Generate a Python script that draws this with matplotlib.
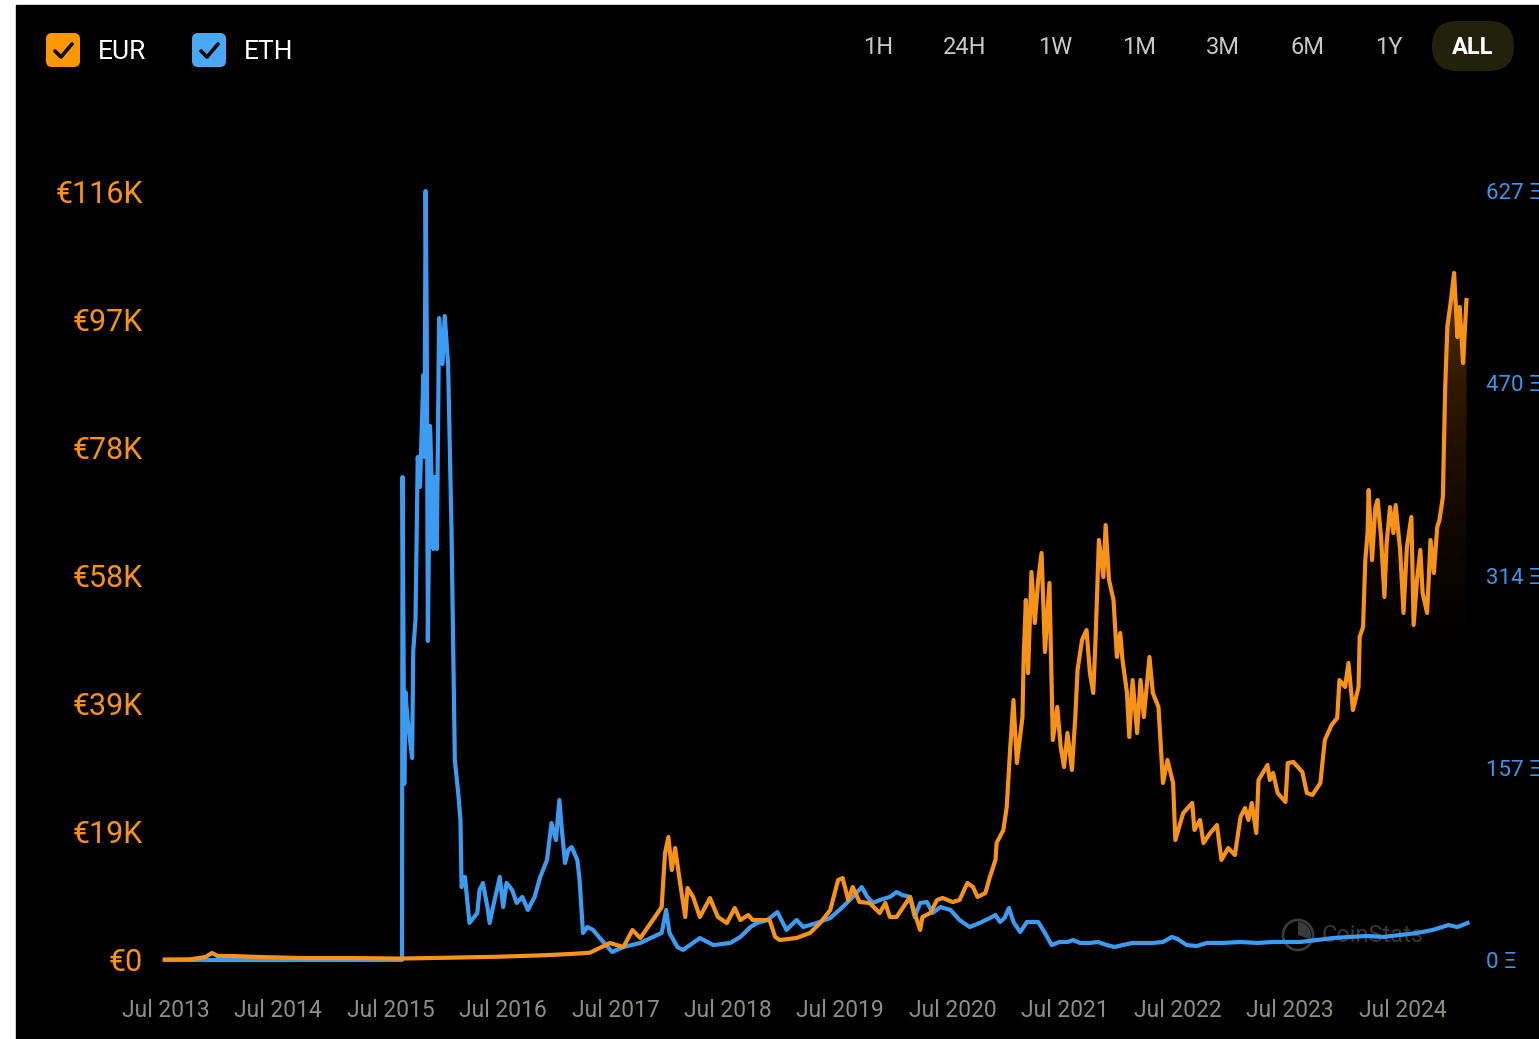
"""BTC price chart: EUR (left axis) and ETH (right axis), CoinStats style."""

import matplotlib

matplotlib.use("Agg")

import matplotlib.pyplot as plt
import numpy as np
from matplotlib.colors import LinearSegmentedColormap
from matplotlib.patches import Circle, FancyBboxPatch, Rectangle, Wedge

plt.rcParams["font.family"] = ["Roboto", "DejaVu Sans"]

# BTC price in EUR (thousands), time in decimal years
eur_t = [2013.49, 2013.71, 2013.85, 2013.91, 2013.96, 2014.07, 2014.34, 2014.69, 2015.14, 2015.58,
         2016.03, 2016.47, 2016.83, 2017.09, 2017.27, 2017.45, 2017.57, 2017.65, 2017.72, 2017.85,
         2017.91, 2017.94, 2017.97, 2018.00, 2018.03, 2018.07, 2018.12, 2018.14, 2018.19, 2018.25,
         2018.34, 2018.41, 2018.49, 2018.56, 2018.61, 2018.68, 2018.72, 2018.87, 2018.92, 2018.96,
         2019.11, 2019.23, 2019.32, 2019.41, 2019.48, 2019.52, 2019.57, 2019.61, 2019.67, 2019.76,
         2019.85, 2019.90, 2019.94, 2020.00, 2020.06, 2020.12, 2020.16, 2020.21, 2020.23, 2020.30,
         2020.36, 2020.41, 2020.50, 2020.56, 2020.63, 2020.68, 2020.72, 2020.79, 2020.83, 2020.88,
         2020.89, 2020.95, 2020.98, 2021.01, 2021.04, 2021.07, 2021.12, 2021.13, 2021.15, 2021.17,
         2021.20, 2021.23, 2021.26, 2021.29, 2021.32, 2021.36, 2021.39, 2021.43, 2021.46, 2021.49,
         2021.52, 2021.56, 2021.59, 2021.61, 2021.65, 2021.69, 2021.72, 2021.75, 2021.77, 2021.80,
         2021.84, 2021.86, 2021.89, 2021.93, 2021.96, 2021.99, 2022.01, 2022.05, 2022.07, 2022.10,
         2022.14, 2022.17, 2022.20, 2022.25, 2022.28, 2022.33, 2022.37, 2022.41, 2022.46, 2022.48,
         2022.55, 2022.63, 2022.65, 2022.70, 2022.73, 2022.79, 2022.85, 2022.89, 2022.95, 2023.01,
         2023.06, 2023.10, 2023.13, 2023.16, 2023.20, 2023.22, 2023.30, 2023.32, 2023.35, 2023.39,
         2023.46, 2023.48, 2023.53, 2023.61, 2023.65, 2023.70, 2023.77, 2023.81, 2023.87, 2023.92,
         2023.94, 2023.99, 2024.02, 2024.06, 2024.11, 2024.12, 2024.15, 2024.17, 2024.19, 2024.20,
         2024.23, 2024.26, 2024.28, 2024.31, 2024.34, 2024.36, 2024.39, 2024.42, 2024.44, 2024.48,
         2024.51, 2024.54, 2024.58, 2024.60, 2024.63, 2024.66, 2024.68, 2024.72, 2024.75, 2024.78,
         2024.81, 2024.83, 2024.86, 2024.88, 2024.90, 2024.93, 2024.96, 2024.99, 2025.01, 2025.04,
         2025.07]
eur_k = [0.07, 0.10, 0.45, 1.06, 0.61, 0.61, 0.45, 0.30, 0.30, 0.22,
         0.35, 0.5, 0.7, 0.9, 1.1, 2.57, 1.97, 4.54, 3.33, 6.51,
         8.02, 16.20, 18.62, 13.62, 16.95, 12.11, 6.51, 10.90, 9.54, 6.51,
         9.38, 6.51, 5.60, 7.87, 6.05, 6.81, 6.05, 6.05, 3.48, 3.03,
         3.33, 4.09, 5.60, 7.57, 12.11, 12.41, 9.08, 11.05, 8.78, 8.63,
         7.11, 8.63, 6.51, 6.51, 8.02, 9.54, 7.11, 4.54, 6.51, 7.11,
         9.08, 9.38, 8.78, 9.08, 11.66, 11.05, 9.54, 10.14, 12.56, 15.14,
         17.71, 19.68, 23.16, 31.79, 39.36, 29.82, 36.78, 45.41, 54.49, 43.44,
         58.73, 51.01, 57.52, 61.61, 46.62, 57.07, 33.30, 38.30, 32.24, 29.21,
         34.36, 28.76, 36.78, 43.90, 48.44, 49.95, 43.44, 40.42, 48.44, 63.58,
         57.97, 65.85, 57.52, 54.49, 45.87, 49.50, 45.41, 40.42, 33.76, 42.38,
         34.36, 42.38, 36.78, 45.87, 40.42, 38.30, 26.79, 30.27, 26.79, 18.16,
         22.25, 23.77, 19.68, 21.19, 17.71, 19.22, 20.43, 15.14, 16.95, 15.89,
         21.65, 23.01, 21.19, 23.77, 19.22, 27.25, 29.52, 27.25, 28.31, 25.28,
         23.92, 29.82, 29.97, 28.46, 25.28, 24.98, 26.79, 33.30, 35.57, 36.63,
         42.38, 41.32, 44.96, 37.84, 41.32, 48.89, 50.41, 60.55, 64.63, 71.14,
         60.55, 68.57, 69.63, 64.03, 54.95, 63.12, 68.57, 64.63, 68.87, 62.06,
         52.53, 62.52, 67.06, 50.71, 57.52, 62.06, 55.55, 52.53, 63.58, 58.58,
         65.54, 66.60, 70.08, 86.28, 95.82, 99.60, 103.99, 94.30, 98.84, 90.37,
         99.90]

# BTC price in ETH
eth_t = [2013.49, 2015.60, 2015.605, 2015.62, 2015.63, 2015.65, 2015.69, 2015.70, 2015.72, 2015.74,
         2015.76, 2015.79, 2015.80, 2015.81, 2015.82, 2015.83, 2015.85, 2015.88, 2015.89, 2015.91,
         2015.93, 2015.96, 2015.98, 2016.01, 2016.04, 2016.06, 2016.07, 2016.10, 2016.12, 2016.13,
         2016.16, 2016.20, 2016.27, 2016.29, 2016.32, 2016.36, 2016.38, 2016.41, 2016.47, 2016.50,
         2016.53, 2016.58, 2016.62, 2016.67, 2016.72, 2016.78, 2016.83, 2016.89, 2016.93, 2016.97,
         2017.00, 2017.02, 2017.05, 2017.08, 2017.11, 2017.16, 2017.18, 2017.21, 2017.25, 2017.30,
         2017.36, 2017.47, 2017.57, 2017.72, 2017.87, 2017.91, 2017.95, 2017.98, 2018.05, 2018.10,
         2018.25, 2018.37, 2018.52, 2018.61, 2018.70, 2018.76, 2018.85, 2018.94, 2019.02, 2019.11,
         2019.17, 2019.29, 2019.41, 2019.52, 2019.61, 2019.69, 2019.74, 2019.79, 2019.85, 2019.94,
         2020.00, 2020.05, 2020.12, 2020.16, 2020.21, 2020.27, 2020.32, 2020.39, 2020.48, 2020.56,
         2020.65, 2020.74, 2020.83, 2020.88, 2020.92, 2020.96, 2021.00, 2021.04, 2021.10, 2021.16,
         2021.21, 2021.26, 2021.32, 2021.38, 2021.45, 2021.52, 2021.57, 2021.63, 2021.72, 2021.79,
         2021.87, 2021.94, 2022.01, 2022.10, 2022.19, 2022.28, 2022.37, 2022.45, 2022.50, 2022.58,
         2022.67, 2022.76, 2022.90, 2023.06, 2023.21, 2023.35, 2023.50, 2023.59, 2023.74, 2023.88,
         2024.03, 2024.19, 2024.33, 2024.48, 2024.63, 2024.77, 2024.91, 2024.99, 2025.08]
eth_v = [0, 0, 393.8, 143.5, 218.5, 195.7, 164.7, 251.9, 277.2, 410.1,
         385.6, 476.9, 410.1, 627.0, 514.4, 260.1, 435.4, 335.1, 393.8, 335.1,
         523.4, 485.9, 525.1, 485.9, 352.2, 226.7, 163.1, 136.2, 114.1, 59.5,
         67.7, 30.2, 38.3, 57.1, 62.8, 43.2, 30.2, 43.2, 67.7, 43.2,
         62.8, 57.1, 46.5, 51.4, 40.8, 51.4, 67.7, 81.5, 111.7, 97.8,
         130.4, 108.4, 79.1, 89.7, 92.1, 81.5, 65.2, 22.0, 26.9, 24.5,
         17.9, 6.5, 10.6, 13.9, 20.4, 22.0, 40.8, 22.0, 10.6, 8.2,
         17.9, 12.2, 13.9, 18.8, 26.9, 30.2, 32.6, 39.1, 24.5, 32.6,
         26.9, 30.2, 34.2, 43.2, 51.4, 59.5, 51.4, 46.5, 48.9, 51.4,
         55.4, 53.0, 51.4, 35.1, 46.5, 47.3, 38.3, 43.2, 40.8, 32.6,
         26.9, 30.2, 34.2, 36.7, 31.0, 34.2, 42.4, 31.0, 22.8, 31.0,
         31.0, 31.0, 22.0, 12.2, 14.7, 14.7, 16.3, 13.9, 13.9, 14.7,
         12.2, 10.6, 12.2, 13.9, 13.9, 13.9, 14.7, 18.8, 17.1, 12.2,
         11.4, 13.9, 13.9, 14.7, 13.9, 14.7, 14.7, 14.7, 16.3, 17.9,
         18.8, 19.6, 18.8, 20.4, 22.0, 24.5, 28.5, 26.9, 30.2]

x_ticks = [2013.5 + i for i in range(12)]
x_labels = [f"Jul {2013 + i}" for i in range(12)]
eur_ticks = [0, 19.4, 38.8, 58.2, 77.6, 97.0, 116.4]
eur_labels = ["€0", "€19K", "€39K", "€58K", "€78K", "€97K", "€116K"]
eth_ticks = [0, 156.75, 313.5, 470.25, 627]
eth_labels = ["0 Ξ", "157 Ξ", "314 Ξ", "470 Ξ", "627 Ξ"]
ranges = ["1H", "24H", "1W", "1M", "3M", "6M", "1Y", "ALL"]

ORANGE = "#f7931a"
BLUE = "#3d9cf2"
W, H = 1539, 1039

fig = plt.figure(figsize=(W / 100, H / 100), dpi=100, facecolor="white")

# full-figure pixel canvas for background, header and watermark
bg = fig.add_axes([0, 0, 1, 1], zorder=0)
bg.set_xlim(0, W); bg.set_ylim(H, 0); bg.axis("off")
bg.add_patch(Rectangle((16, 5), W - 16, H - 5, color="black"))
for x0, col, name in ((46, "#ff9800", "EUR"), (192, "#4aa8f8", "ETH")):
    bg.add_patch(FancyBboxPatch((x0, 33), 34, 34, boxstyle="round,pad=0,rounding_size=6", fc=col, ec="none"))
    bg.plot([x0 + 9, x0 + 15, x0 + 26], [51, 57, 44], color="black", lw=2.6, solid_capstyle="round")
    bg.text(x0 + 52, 52, name, color="white", fontsize=19, va="center", ha="left")
for xc, lab in zip([878, 965, 1055, 1139, 1223, 1307, 1389, 1473], ranges):
    if lab == "ALL":
        bg.add_patch(FancyBboxPatch((1432, 21), 82, 50, boxstyle="round,pad=0,rounding_size=25", fc="#22220c", ec="none"))
        bg.text(xc, 47, lab, color="white", fontsize=17, fontweight="bold", ha="center", va="center")
    else:
        bg.text(xc, 47, lab, color="#c8c8c8", fontsize=17, ha="center", va="center")
bg.add_patch(Circle((1298, 935), 15, fc="none", ec="#3a3a3a", lw=2))
bg.add_patch(Wedge((1298, 935), 13, -90, 20, fc="#3a3a3a", ec="none"))
bg.text(1322, 936, "CoinStats", color="#383838", fontsize=17, va="center", ha="left")

# chart axes: orange (EUR) on top of blue (ETH)
ax = fig.add_axes([160 / W, 1 - 970 / H, (1475 - 160) / W, (970 - 180) / H])
ax2 = ax.twinx()
ax.set_zorder(3); ax2.set_zorder(2)
ax.patch.set_visible(False); ax2.patch.set_visible(False)

ax2.plot(eth_t, eth_v, color=BLUE, lw=3, solid_joinstyle="round")
ax.plot(eur_t, eur_k, color=ORANGE, lw=3, solid_joinstyle="round", zorder=3)

# brown gradient under the latest part of the EUR line
t_arr, k_arr = np.array(eur_t), np.array(eur_k)
mask = t_arr >= 2024.18
poly = ax.fill_between(t_arr[mask], k_arr[mask], 0, color="none", lw=0)
grad_cmap = LinearSegmentedColormap.from_list("g", [(0.25, 0.12, 0.0, 0.0), (0.40, 0.21, 0.0, 0.9)])
img = ax.imshow(np.linspace(0, 1, 256).reshape(-1, 1) ** 1.5, extent=[2024.18, 2025.08, 40, 104], origin="lower",
                cmap=grad_cmap, aspect="auto", zorder=2)
img.set_clip_path(poly.get_paths()[0], transform=ax.transData)

ax.set_xlim(2013.447, 2025.146)
ax.set_ylim(-1.514, 118.07)
ax2.set_ylim(-8.153, 635.97)

ax.set_xticks(x_ticks, x_labels)
ax.set_yticks(eur_ticks, eur_labels)
ax2.set_yticks(eth_ticks, eth_labels)
ax.tick_params(axis="x", length=0, pad=21, labelsize=16.5, labelcolor="#8e8e84")
ax.tick_params(axis="y", length=0, pad=12, labelsize=22, labelcolor=ORANGE)
ax2.tick_params(axis="y", length=0, pad=8, labelsize=16, labelcolor="#3d95e8")
for a in (ax, ax2):
    for s in a.spines.values():
        s.set_visible(False)

fig.savefig("out.png", dpi=100, facecolor=fig.get_facecolor())
